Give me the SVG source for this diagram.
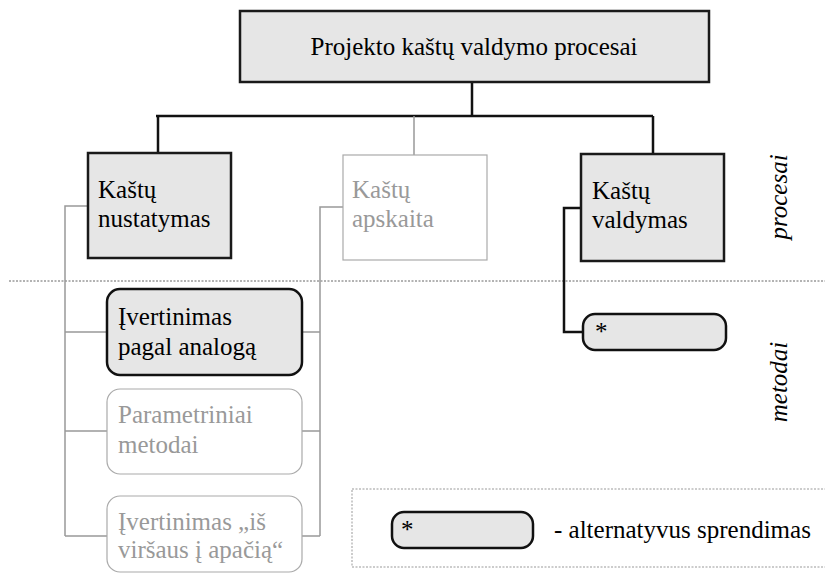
<svg xmlns="http://www.w3.org/2000/svg" width="825" height="573" viewBox="0 0 825 573">
  <style>
    .muted { fill: #999; }
    .side { font-style: italic; }
    .proc { fill: #e6e6e6; stroke: #1a1a1a; stroke-width: 2.5; }
    .proc-off { fill: #fff; stroke: #aaa; stroke-width: 1.2; }
    .meth { fill: #e6e6e6; stroke: #111; stroke-width: 2.5; }
    .meth-off { fill: #fff; stroke: #aaa; stroke-width: 1.2; }
    .link { fill: none; stroke: #111; stroke-width: 2.5; }
    .link-off { fill: none; stroke: #999; stroke-width: 1.5; }
    .rule { fill: none; stroke: #666; stroke-width: 1; stroke-dasharray: 2 1.5; }
    .frame { fill: none; stroke: #999; stroke-width: 1; stroke-dasharray: 2 1.5; }
  </style>

  <g font-family="Liberation Serif, DejaVu Serif, serif" font-size="25" fill="#000">
  <!-- divider between process and method levels -->
  <line class="rule" x1="9" y1="281" x2="825" y2="281"/>

  <g id="connectors">
    <path class="link" d="M472,82 V116 M156,116 H653 M158,116 V153 M653,116 V154"/>
    <path class="link-off" d="M414,116 V155"/>
    <path class="link-off" d="M88,206 H65 V536 M65,332 H107 M65,431 H107 M65,536 H107"/>
    <path class="link-off" d="M343,207 H320 V536 M302,332 H320 M302,431 H320 M302,536 H320"/>
    <path class="link" d="M581,208 H564 V332 H583"/>
  </g>

  <g id="root">
    <rect class="proc" x="240" y="11" width="469" height="71"/>
    <text x="474" y="55" text-anchor="middle">Projekto kaštų valdymo procesai</text>
  </g>

  <g id="kastu-nustatymas">
    <rect class="proc" x="88" y="153" width="143" height="105"/>
    <text x="98" y="198">Kaštų</text>
    <text x="98" y="227">nustatymas</text>
  </g>

  <g id="kastu-apskaita">
    <rect class="proc-off" x="343" y="155" width="144" height="105"/>
    <text class="muted" x="352" y="198">Kaštų</text>
    <text class="muted" x="352" y="227">apskaita</text>
  </g>

  <g id="kastu-valdymas">
    <rect class="proc" x="581" y="154" width="143" height="107"/>
    <text x="592" y="199">Kaštų</text>
    <text x="592" y="228">valdymas</text>
  </g>

  <g id="ivertinimas-analoga">
    <rect class="meth" x="107" y="289" width="195" height="86" rx="13"/>
    <text x="118" y="325">Įvertinimas</text>
    <text x="118" y="355">pagal analogą</text>
  </g>

  <g id="parametriniai">
    <rect class="meth-off" x="107" y="389" width="195" height="85" rx="13"/>
    <text class="muted" x="118" y="423">Parametriniai</text>
    <text class="muted" x="118" y="453">metodai</text>
  </g>

  <g id="ivertinimas-is-virsaus">
    <rect class="meth-off" x="107" y="496" width="195" height="76" rx="13"/>
    <text class="muted" x="118" y="530">Įvertinimas „iš</text>
    <text class="muted" x="118" y="558">viršaus į apačią“</text>
  </g>

  <g id="alternatyva">
    <rect class="meth" x="583" y="314" width="143" height="36" rx="12"/>
    <text x="595" y="340">*</text>
  </g>

  <g id="level-labels">
    <text class="side" transform="translate(787,197) rotate(-90)" text-anchor="middle">procesai</text>
    <text class="side" transform="translate(787,382) rotate(-90)" text-anchor="middle">metodai</text>
  </g>

  <g id="legend">
    <rect class="frame" x="352" y="489" width="480" height="78"/>
    <rect class="meth" x="392" y="512" width="141" height="36" rx="12"/>
    <text x="401" y="538">*</text>
    <text x="554" y="538">- alternatyvus sprendimas</text>
  </g>
  </g>
</svg>
